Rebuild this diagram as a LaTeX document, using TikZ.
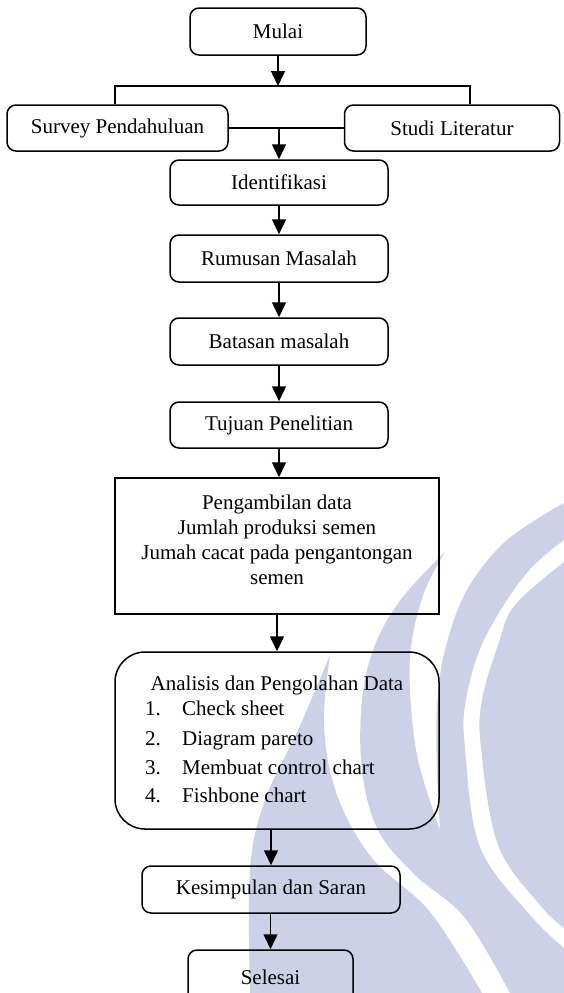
\documentclass[tikz,border=0pt]{standalone}
\usepackage{fontspec}
\setmainfont{Liberation Serif}
\usetikzlibrary{arrows.meta,calc}
\definecolor{wm}{RGB}{205,209,232}
\begin{document}
\begin{tikzpicture}[x=1pt,y=-1pt,
  box/.style={draw, line width=1.5pt, rounded corners=9pt, inner sep=0pt, font=\fontsize{21}{25}\selectfont, align=center},
  txt/.style={inner sep=0pt, font=\fontsize{21}{25}\selectfont},
  arr/.style={line width=1.5pt, -{Triangle[width=14pt,length=15pt]}},
  ln/.style={line width=1.5pt}]
\useasboundingbox (0,0) rectangle (564,993);
\clip (0,0) rectangle (564,993);
% watermark
\fill[wm] plot[smooth, tension=0.6] coordinates {(330,655) (298,730) (265,800) (250,870) (250,993)} -- (250,1000) -- (487,1000)
  -- plot[smooth, tension=0.6] coordinates {(482,993) (430,912) (372,858) (337,795) (324,725) (330,655)} -- cycle;
\fill[wm] plot[smooth, tension=0.6] coordinates {(445,552) (402,598) (375,645) (362,700) (362,770) (378,830) (415,875) (465,918) (510,993)}
  -- (510,1000) -- (564,1000) -- (564,948)
  -- plot[smooth, tension=0.6] coordinates {(564,948) (530,915) (480,847) (465,748) (466,700) (484,640) (525,575) (564,540)}
  -- (564,503)
  -- plot[smooth, tension=0.6] coordinates {(564,503) (507,540) (467,590) (445,650) (437,707) (437,770) (440,830)}
  -- plot[smooth, tension=0.6] coordinates {(440,830) (418,760) (410,690) (412,640) (425,590) (445,552)} -- cycle;
\fill[wm] plot[smooth, tension=0.6] coordinates {(564,562) (515,605) (498,645) (482,700) (481,748) (498,845) (540,905) (564,928)} -- cycle;
% boxes
\node[box, minimum width=176pt, minimum height=47pt] (mulai) at (278,31.5) {Mulai};
\node[box, minimum width=221pt, minimum height=46pt] (survey) at (117.5,128) {Survey Pendahuluan};
\node[box, minimum width=215pt, minimum height=46pt] (studi) at (452,128) {Studi Literatur};
\node[box, minimum width=218pt, minimum height=45pt] (iden) at (279,182.5) {Identifikasi};
\node[box, minimum width=218pt, minimum height=47pt] (rumus) at (279,258.5) {Rumusan Masalah};
\node[box, minimum width=218pt, minimum height=47pt] (batas) at (279,341.5) {Batasan masalah};
\node[box, minimum width=218pt, minimum height=46pt] (tujuan) at (279,425) {Tujuan Penelitian};
\node[box, rounded corners=0pt, minimum width=324pt, minimum height=136pt] (ambil) at (277,546) {};
\node[txt, align=center] (ambiltxt) at (277,540) {Pengambilan data\\Jumlah produksi semen\\Jumah cacat pada pengantongan\\semen};
\node[box, rounded corners=30pt, minimum width=324pt, minimum height=177pt] (anal) at (277,740.5) {};
\node[txt, anchor=base] (a0) at (277,690) {Analisis dan Pengolahan Data};
\node[txt, anchor=base west] (n1) at (145,715) {1.};
\node[txt, anchor=base west] (a1) at (182,715) {Check sheet};
\node[txt, anchor=base west] (n2) at (145,745) {2.};
\node[txt, anchor=base west] (a2) at (182,745) {Diagram pareto};
\node[txt, anchor=base west] (n3) at (145,774) {3.};
\node[txt, anchor=base west] (a3) at (182,774) {Membuat control chart};
\node[txt, anchor=base west] (n4) at (145,802) {4.};
\node[txt, anchor=base west] (a4) at (182,802) {Fishbone chart};
\node[box, minimum width=258pt, minimum height=47pt] (kes) at (271,889.5) {Kesimpulan dan Saran};
\node[box, minimum width=165pt, minimum height=54pt] (sel) at (270.5,977) {Selesai};
% connectors
\coordinate (br) at (278,86);
\coordinate (bl) at (115,86);
\coordinate (brr) at (470,86);
\coordinate (mid) at (iden.north |- survey.east);
\draw[arr] (mulai.south) -- (br);
\draw[ln] (survey.north -| bl) -- (bl) -- (brr) -- (studi.north -| brr);
\draw[ln] (survey.east) -- (studi.west);
\draw[arr] (mid) -- (iden.north);
\draw[arr] (iden.south) -- (rumus.north);
\draw[arr] (rumus.south) -- (batas.north);
\draw[arr] (batas.south) -- (tujuan.north);
\draw[arr] (tujuan.south) -- (tujuan.south |- ambil.north);
\draw[arr] (ambil.south) -- (anal.north);
\draw[arr] (anal.south -| kes.north) -- (kes.north);
\draw[arr] (kes.south -| sel.north) -- (sel.north);
\end{tikzpicture}
\end{document}
